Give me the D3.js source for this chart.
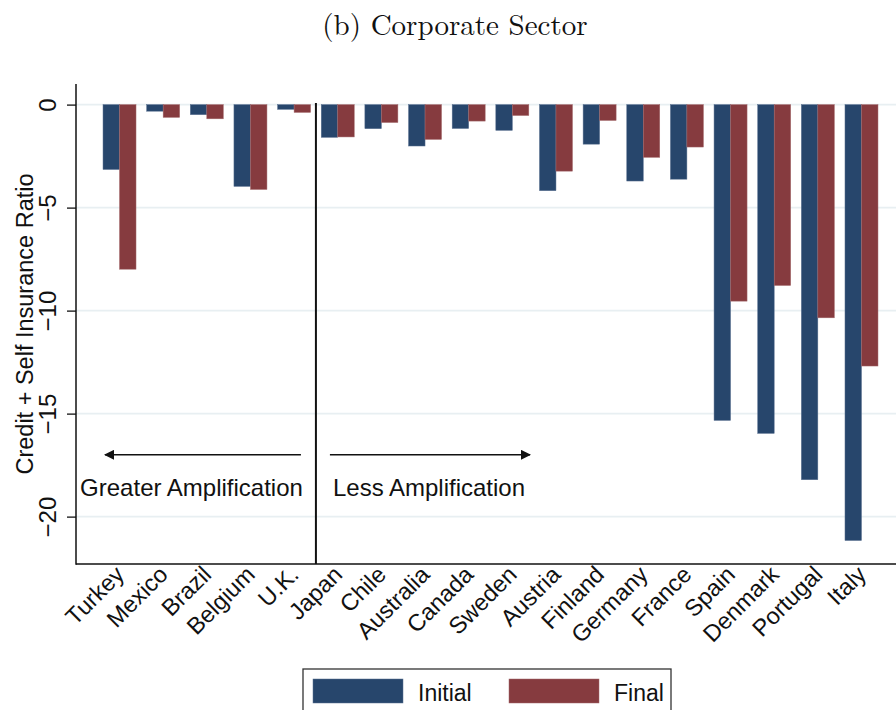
<!DOCTYPE html>
<html>
<head>
<meta charset="utf-8">
<script src="https://cdn.jsdelivr.net/npm/d3@7"></script>
<style>
  body { margin: 0; background: #fff; }
  svg { display: block; }
</style>
</head>
<body>
<svg id="container" width="896" height="710"></svg>
<script>
var countries = ["Turkey", "Mexico", "Brazil", "Belgium", "U.K.", "Japan", "Chile", "Australia", "Canada",
    "Sweden", "Austria", "Finland", "Germany", "France", "Spain", "Denmark", "Portugal", "Italy"];
var initialValues = [-3.15, -0.32, -0.49, -3.97, -0.23, -1.59, -1.17, -2.01, -1.16,
    -1.25, -4.18, -1.92, -3.71, -3.62, -15.33, -15.96, -18.21, -21.16];
var finalValues = [-7.99, -0.62, -0.69, -4.12, -0.38, -1.57, -0.87, -1.69, -0.80,
    -0.53, -3.23, -0.77, -2.56, -2.06, -9.54, -8.78, -10.35, -12.69];
var seriesNames = ["Initial", "Final"];
var seriesColors = ["#27466c", "#863b3f"];
var yTicks = [0, -5, -10, -15, -20];
var splitAfter = "U.K.";

const svg = d3.select('#container');
const fontSans = "'Liberation Sans', Arial, Helvetica, sans-serif";

const plotLeft = 76, plotRight = 905, plotTop = 84, plotBottom = 564;

const x = d3.scaleBand().domain(countries).range([plotLeft, plotRight])
    .paddingInner(0.244).paddingOuter(0.619);
const xSub = d3.scaleBand().domain(seriesNames).range([0, x.bandwidth()]);
const y = d3.scaleLinear().domain([-22.3, 1]).range([plotBottom, plotTop]);

var rows = countries.map((c, i) => ({ country: c, values: [initialValues[i], finalValues[i]] }));

// title
svg.append("text").attr("x", 455).attr("y", 35).attr("text-anchor", "middle")
    .attr("font-family", "'Latin Modern Roman', 'DejaVu Serif', 'Liberation Serif', serif")
    .attr("font-size", 29).attr("fill", "#111").text("(b) Corporate Sector");

// gridlines
svg.append("g").selectAll("line").data(yTicks).join("line")
    .attr("x1", plotLeft).attr("x2", 896)
    .attr("y1", d => y(d)).attr("y2", d => y(d))
    .attr("stroke", "#e8eff2").attr("stroke-width", 1.6);

// bars
const groups = svg.append("g").selectAll("g").data(rows).join("g")
    .attr("transform", d => "translate(" + x(d.country) + ",0)");
groups.selectAll("rect").data(d => d.values.map((v, k) => ({ key: seriesNames[k], value: v, k: k })))
    .join("rect")
    .attr("x", d => xSub(d.key))
    .attr("width", xSub.bandwidth())
    .attr("y", d => y(Math.max(0, d.value)))
    .attr("height", d => Math.abs(y(d.value) - y(0)))
    .attr("fill", d => seriesColors[d.k])
    .attr("stroke", d => d.k == 0 ? "#5a7190" : "#a36a6d")
    .attr("stroke-width", 0.5);

// y axis
const yAxis = svg.append("g").attr("transform", "translate(" + plotLeft + ",0)")
    .call(d3.axisLeft(y).tickValues(yTicks).tickSize(9).tickPadding(0).tickFormat(d3.format("d")));
yAxis.select(".domain").attr("stroke", "#111").attr("stroke-width", 1.5)
    .attr("d", "M0," + plotTop + "V" + (plotBottom + 0.75));
yAxis.selectAll(".tick line").attr("stroke", "#111").attr("stroke-width", 1.3);
yAxis.selectAll(".tick text")
    .attr("font-family", fontSans).attr("font-size", 24).attr("fill", "#111")
    .attr("text-anchor", "middle").attr("x", null).attr("dy", null)
    .attr("transform", "translate(-20,0) rotate(-90)")
    .attr("y", 0);

svg.append("text").attr("transform", "translate(33," + ((plotTop + plotBottom) / 2) + ") rotate(-90)")
    .attr("text-anchor", "middle").attr("font-family", fontSans).attr("font-size", 23.5).attr("fill", "#111")
    .text("Credit + Self Insurance Ratio");

// x axis
const xAxis = svg.append("g").attr("transform", "translate(0," + plotBottom + ")")
    .call(d3.axisBottom(x).tickSize(0).tickPadding(0));
xAxis.select(".domain").attr("stroke", "#111").attr("stroke-width", 1.5)
    .attr("d", "M" + plotLeft + ",0H896");
xAxis.selectAll(".tick text")
    .attr("font-family", fontSans).attr("font-size", 23.5).attr("fill", "#111")
    .attr("text-anchor", "end").attr("dy", null).attr("y", 0)
    .attr("transform", "translate(6,12) rotate(-45)");

// separator between groups
const splitIndex = countries.indexOf(splitAfter);
const splitX = (x(countries[splitIndex]) + x(countries[splitIndex + 1]) + x.bandwidth()) / 2;
svg.append("line").attr("x1", splitX).attr("x2", splitX)
    .attr("y1", y(0) - 1.5).attr("y2", plotBottom)
    .attr("stroke", "#111").attr("stroke-width", 2);

// arrows and annotation
const defs = svg.append("defs");
defs.append("marker").attr("id", "head").attr("viewBox", "0 0 10 10")
    .attr("refX", 9).attr("refY", 5).attr("markerWidth", 10).attr("markerHeight", 10)
    .attr("markerUnits", "userSpaceOnUse").attr("orient", "auto")
    .append("path").attr("d", "M0,0L10,5L0,10Z").attr("fill", "#111");

const arrowY = y(-17);
svg.append("line").attr("x1", splitX - 15).attr("x2", 105).attr("y1", arrowY).attr("y2", arrowY)
    .attr("stroke", "#111").attr("stroke-width", 1.6).attr("marker-end", "url(#head)");
svg.append("line").attr("x1", splitX + 14).attr("x2", 530).attr("y1", arrowY).attr("y2", arrowY)
    .attr("stroke", "#111").attr("stroke-width", 1.6).attr("marker-end", "url(#head)");

svg.append("text").attr("x", 191.5).attr("y", 496).attr("text-anchor", "middle")
    .attr("font-family", fontSans).attr("font-size", 24).attr("fill", "#111").text("Greater Amplification");
svg.append("text").attr("x", 429).attr("y", 496).attr("text-anchor", "middle")
    .attr("font-family", fontSans).attr("font-size", 24).attr("fill", "#111").text("Less Amplification");

// legend
const legend = svg.append("g");
legend.append("rect").attr("x", 303).attr("y", 669).attr("width", 368).attr("height", 50)
    .attr("fill", "#fff").attr("stroke", "#333").attr("stroke-width", 1.3);
const legendItems = legend.selectAll("g").data(seriesNames).join("g")
    .attr("transform", (d, i) => "translate(" + (313 + i * 196) + ",679)");
legendItems.append("rect").attr("width", 90).attr("height", 24)
    .attr("fill", (d, i) => seriesColors[i])
    .attr("stroke", (d, i) => i == 0 ? "#5a7190" : "#a36a6d").attr("stroke-width", 0.5);
legendItems.append("text").attr("x", 105).attr("y", 22)
    .attr("font-family", fontSans).attr("font-size", 23).attr("fill", "#111").text(d => d);
</script>
</body>
</html>
